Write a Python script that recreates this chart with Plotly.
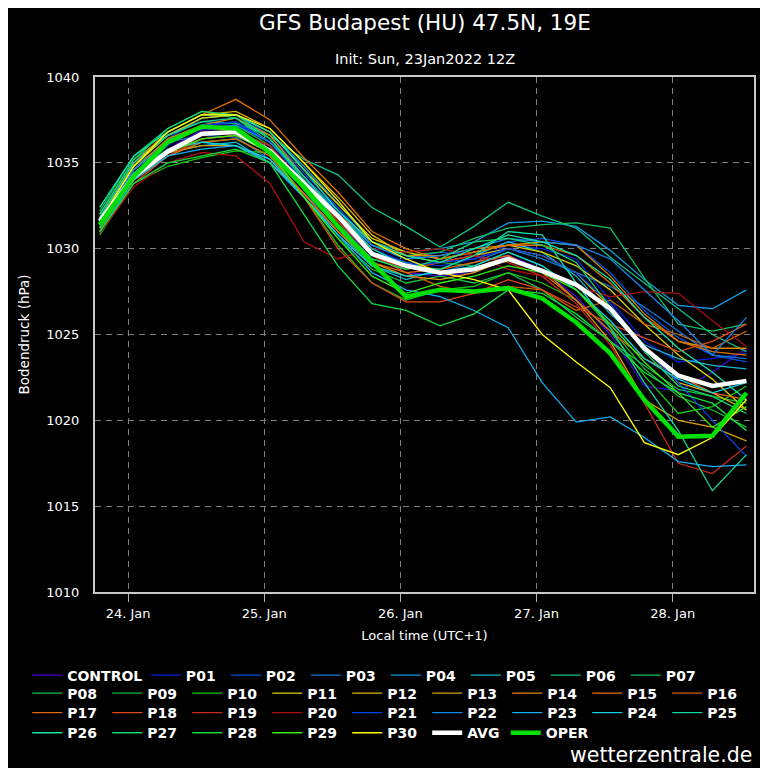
import plotly.graph_objects as go

# forecast times, local time (UTC+1), 6-hourly from init+6h
times = ["2022-01-23 19:00", "2022-01-24 01:00", "2022-01-24 07:00", "2022-01-24 13:00",
         "2022-01-24 19:00", "2022-01-25 01:00", "2022-01-25 07:00", "2022-01-25 13:00",
         "2022-01-25 19:00", "2022-01-26 01:00", "2022-01-26 07:00", "2022-01-26 13:00",
         "2022-01-26 19:00", "2022-01-27 01:00", "2022-01-27 07:00", "2022-01-27 13:00",
         "2022-01-27 19:00", "2022-01-28 01:00", "2022-01-28 07:00", "2022-01-28 13:00"]

tick_vals = ["2022-01-24", "2022-01-25", "2022-01-26", "2022-01-27", "2022-01-28"]
tick_text = ["24. Jan", "25. Jan", "26. Jan", "27. Jan", "28. Jan"]

# surface pressure (hPa) per ensemble member
control = [1031.0, 1034.0, 1035.8, 1036.9, 1037.0, 1035.8, 1033.6, 1031.4, 1029.6, 1028.6, 1028.4, 1028.6, 1029.6, 1028.8, 1027.2, 1025.0, 1022.0, 1021.7, 1022.8, 1024.2]
p01 = [1031.2, 1034.4, 1036.0, 1037.2, 1037.3, 1036.2, 1034.0, 1032.2, 1030.0, 1029.2, 1029.0, 1029.4, 1030.2, 1030.0, 1029.4, 1027.0, 1024.6, 1023.4, 1023.6, 1023.9]
p02 = [1031.4, 1034.6, 1036.4, 1037.6, 1037.8, 1036.6, 1034.4, 1032.4, 1030.2, 1029.4, 1029.8, 1029.6, 1030.4, 1030.6, 1030.2, 1028.6, 1026.4, 1024.8, 1023.8, 1023.4]
p03 = [1031.6, 1034.8, 1036.2, 1036.6, 1036.5, 1035.2, 1033.2, 1031.4, 1029.8, 1029.2, 1028.6, 1029.2, 1030.0, 1029.4, 1028.6, 1027.8, 1026.6, 1025.2, 1023.8, 1023.6]
p04 = [1031.8, 1035.0, 1036.6, 1037.6, 1037.8, 1036.8, 1034.8, 1032.6, 1030.4, 1029.8, 1030.0, 1030.4, 1031.5, 1031.6, 1031.3, 1029.9, 1028.2, 1026.7, 1026.5, 1027.6]
p05 = [1031.3, 1034.3, 1035.6, 1036.0, 1036.2, 1035.0, 1033.0, 1031.0, 1029.0, 1028.2, 1028.8, 1029.6, 1030.4, 1029.8, 1028.4, 1026.2, 1024.4, 1023.6, 1023.2, 1023.0]
p06 = [1032.0, 1035.2, 1036.6, 1037.4, 1037.3, 1036.6, 1035.2, 1034.3, 1032.4, 1031.3, 1030.1, 1031.3, 1032.7, 1031.9, 1031.2, 1029.5, 1028.0, 1026.5, 1025.0, 1024.0]
p07 = [1032.2, 1035.4, 1037.0, 1038.0, 1037.6, 1036.2, 1034.0, 1032.0, 1030.2, 1029.6, 1029.8, 1030.6, 1031.2, 1031.4, 1031.5, 1031.2, 1028.3, 1025.6, 1025.2, 1025.6]
p08 = [1031.0, 1034.0, 1035.4, 1036.2, 1036.4, 1035.4, 1033.0, 1030.6, 1028.8, 1028.0, 1028.4, 1028.0, 1028.6, 1027.6, 1026.0, 1024.6, 1023.2, 1021.8, 1021.4, 1021.0]
p09 = [1031.4, 1034.6, 1036.2, 1037.0, 1037.2, 1036.0, 1033.4, 1031.2, 1029.4, 1028.8, 1029.2, 1029.0, 1029.8, 1029.0, 1027.6, 1025.4, 1023.0, 1021.4, 1020.6, 1019.6]
p10 = [1030.8, 1033.8, 1034.8, 1035.3, 1035.7, 1035.6, 1033.0, 1030.2, 1028.0, 1027.0, 1027.6, 1027.8, 1028.6, 1028.0, 1027.0, 1025.2, 1022.6, 1020.4, 1020.8, 1022.0]
p11 = [1031.6, 1034.8, 1036.6, 1037.6, 1037.8, 1036.8, 1034.6, 1032.6, 1030.6, 1029.8, 1029.4, 1029.8, 1030.2, 1029.8, 1029.0, 1027.6, 1025.6, 1023.8, 1022.4, 1020.6]
p12 = [1031.8, 1035.0, 1036.8, 1037.8, 1038.0, 1037.0, 1035.0, 1033.0, 1030.8, 1029.6, 1029.2, 1029.6, 1030.0, 1029.6, 1028.6, 1026.6, 1024.2, 1022.2, 1021.6, 1020.6]
p13 = [1031.2, 1034.2, 1035.6, 1036.0, 1036.0, 1035.0, 1033.2, 1031.0, 1029.2, 1028.4, 1028.2, 1028.6, 1029.4, 1028.8, 1027.0, 1024.6, 1021.2, 1020.0, 1019.6, 1018.8]
p14 = [1031.6, 1034.6, 1036.4, 1037.2, 1037.6, 1036.6, 1034.2, 1032.0, 1030.4, 1029.6, 1029.6, 1030.0, 1030.2, 1030.4, 1030.2, 1028.4, 1026.2, 1024.6, 1024.2, 1024.2]
p15 = [1031.8, 1035.0, 1036.8, 1037.8, 1038.7, 1037.5, 1035.3, 1033.3, 1031.0, 1030.0, 1029.4, 1029.8, 1030.2, 1030.2, 1029.6, 1028.0, 1026.0, 1024.6, 1024.0, 1023.8]
p16 = [1031.4, 1034.2, 1035.6, 1036.4, 1036.6, 1035.6, 1033.6, 1031.6, 1029.6, 1028.6, 1027.8, 1027.4, 1027.8, 1027.6, 1026.4, 1027.0, 1025.6, 1025.0, 1024.2, 1025.2]
p17 = [1031.2, 1034.0, 1035.4, 1036.2, 1036.4, 1035.4, 1033.2, 1031.0, 1029.2, 1028.6, 1028.8, 1029.2, 1029.6, 1028.6, 1027.0, 1025.2, 1023.6, 1022.6, 1021.6, 1021.2]
p18 = [1031.0, 1033.8, 1035.4, 1036.4, 1036.6, 1035.6, 1033.0, 1030.0, 1028.0, 1026.9, 1026.9, 1027.4, 1028.2, 1027.6, 1026.6, 1025.6, 1024.8, 1024.0, 1024.6, 1025.6]
p19 = [1031.2, 1034.0, 1035.8, 1036.6, 1036.8, 1036.0, 1033.8, 1031.6, 1029.6, 1028.8, 1029.2, 1029.6, 1029.2, 1028.4, 1026.8, 1024.4, 1021.0, 1017.5, 1016.9, 1018.5]
p20 = [1030.9, 1033.6, 1035.0, 1035.6, 1035.4, 1033.8, 1030.4, 1029.4, 1030.0, 1029.8, 1030.0, 1029.6, 1028.8, 1028.4, 1027.8, 1027.2, 1027.5, 1027.4, 1025.8, 1024.3]
p21 = [1031.2, 1034.4, 1036.2, 1037.2, 1037.4, 1036.2, 1034.0, 1031.8, 1029.8, 1029.0, 1029.2, 1029.4, 1030.0, 1029.6, 1028.6, 1026.8, 1024.2, 1022.2, 1020.0, 1017.9]
p22 = [1031.6, 1034.6, 1036.2, 1037.0, 1037.2, 1036.2, 1034.2, 1032.2, 1030.2, 1029.4, 1029.6, 1030.0, 1030.6, 1030.4, 1030.2, 1029.4, 1027.6, 1025.8, 1023.8, 1026.0]
p23 = [1031.0, 1034.0, 1035.4, 1035.8, 1036.0, 1035.0, 1033.0, 1030.8, 1028.6, 1027.6, 1027.2, 1026.4, 1025.4, 1022.2, 1019.9, 1020.2, 1019.0, 1017.6, 1017.3, 1017.4]
p24 = [1031.4, 1034.4, 1035.8, 1036.2, 1036.0, 1035.2, 1033.0, 1030.8, 1029.0, 1028.4, 1028.6, 1029.0, 1029.8, 1029.0, 1027.6, 1025.8, 1023.6, 1022.4, 1021.6, 1022.2]
p25 = [1031.8, 1035.0, 1036.6, 1037.4, 1037.6, 1036.4, 1034.2, 1032.0, 1030.0, 1029.0, 1028.8, 1029.6, 1031.0, 1030.8, 1028.0, 1025.4, 1022.2, 1019.4, 1015.9, 1018.0]
p26 = [1032.4, 1035.4, 1036.8, 1037.8, 1037.8, 1036.8, 1034.6, 1032.2, 1030.4, 1029.6, 1029.2, 1030.0, 1030.8, 1030.4, 1029.6, 1028.2, 1026.0, 1024.2, 1022.8, 1021.2]
p27 = [1032.0, 1035.2, 1037.0, 1038.0, 1037.8, 1036.4, 1034.0, 1031.4, 1029.4, 1028.8, 1029.4, 1030.4, 1030.6, 1030.2, 1029.2, 1026.6, 1024.0, 1022.0, 1021.4, 1020.4]
p28 = [1031.0, 1033.8, 1035.0, 1035.4, 1035.8, 1035.0, 1032.0, 1029.0, 1026.8, 1026.4, 1025.5, 1026.2, 1027.6, 1027.4, 1026.2, 1024.6, 1022.8, 1021.6, 1021.0, 1019.4]
p29 = [1031.2, 1034.2, 1035.6, 1036.4, 1036.6, 1035.6, 1033.0, 1030.6, 1028.4, 1027.4, 1028.0, 1028.4, 1029.0, 1028.6, 1027.6, 1025.6, 1023.4, 1021.6, 1019.6, 1020.8]
p30 = [1031.6, 1034.8, 1036.8, 1037.8, 1037.8, 1037.0, 1035.0, 1032.8, 1030.4, 1029.4, 1028.6, 1028.2, 1027.6, 1025.0, 1023.4, 1021.9, 1018.7, 1018.0, 1019.0, 1021.2]
avg = [1031.6, 1034.2, 1035.65, 1036.7, 1036.8, 1035.7, 1033.8, 1031.9, 1029.7, 1029.0, 1028.6, 1028.8, 1029.4, 1028.7, 1027.9, 1026.5, 1024.2, 1022.6, 1022.0, 1022.3]
oper = [1031.4, 1034.2, 1036.2, 1037.1, 1037.0, 1035.6, 1033.6, 1031.3, 1029.2, 1027.2, 1027.6, 1027.5, 1027.7, 1027.1, 1025.7, 1023.9, 1021.2, 1019.05, 1019.1, 1021.6]

names = ["CONTROL"] + ["P%02d" % i for i in range(1, 31)]
series = [control, p01, p02, p03, p04, p05, p06, p07, p08, p09, p10, p11, p12, p13, p14, p15,
          p16, p17, p18, p19, p20, p21, p22, p23, p24, p25, p26, p27, p28, p29, p30]
colors = ["#4400dd", "#0022dd", "#0055dd", "#1177d4", "#1199dd", "#11b8d0", "#11c088", "#11c060",
          "#18c048", "#11bb30", "#11cc11", "#d8d000", "#e0b400", "#d8a000", "#e08800", "#e07000",
          "#cc6000", "#e06810", "#e04818", "#cc2a18", "#aa1010", "#0044ee", "#1188f0", "#11b0ee",
          "#11d0e0", "#11d8a0", "#11e8a8", "#11d870", "#11dd40", "#33ee11", "#ffff00"]

# one legend per row, laid out like the original (OPER gets its own so it is not clipped)
rows = ["legend"] + ["legend2"] * 7 + ["legend3"] * 9 + ["legend4"] * 9 + ["legend5"] * 5

fig = go.Figure()
for name, vals, col, lg in zip(names, series, colors, rows):
    fig.add_trace(go.Scatter(x=times, y=vals, mode="lines", name=name,
                             line=dict(color=col, width=1.3), legend=lg))
fig.add_trace(go.Scatter(x=times, y=avg, mode="lines", name="AVG",
                         line=dict(color="white", width=4.5), legend="legend5"))
fig.add_trace(go.Scatter(x=times, y=oper, mode="lines", name="OPER",
                         line=dict(color="#00e000", width=4.5), legend="legend6"))

font_fam = "DejaVu Sans, sans-serif"
leg_font = dict(family=font_fam, size=14, color="white", weight="bold")
leg_common = dict(orientation="h", xanchor="left", yanchor="top",
                  bgcolor="rgba(0,0,0,0)", font=leg_font, itemwidth=30,
                  entrywidth=35, traceorder="normal")

# the page body adds an 8px offset, so the figure is 760x760
fig.update_layout(
    width=760, height=760,
    paper_bgcolor="black", plot_bgcolor="black",
    margin=dict(l=87, r=12, t=69, b=176),
    font=dict(family=font_fam, color="white", size=13),
    showlegend=True,
    legend=dict(leg_common, x=-0.1029, y=-0.131, entrywidth=90),
    legend2=dict(leg_common, x=0.0772, y=-0.131),
    legend3=dict(leg_common, x=-0.1029, y=-0.166),
    legend4=dict(leg_common, x=-0.1029, y=-0.204),
    legend5=dict(leg_common, x=-0.1029, y=-0.243),
    legend6=dict(leg_common, x=0.6233, y=-0.243, entrywidth=55),
    xaxis=dict(
        range=["2022-01-23 18:10", "2022-01-28 14:20"],
        tickvals=tick_vals, ticktext=tick_text,
        ticks="outside", ticklen=8, tickcolor="#aab4c8",
        showgrid=True, gridcolor="#808080", griddash="6px,5px", gridwidth=1,
        showline=True, mirror=True, linecolor="#c8c8c8", linewidth=2,
        zeroline=False, tickfont=dict(size=13),
        title=dict(text="Local time (UTC+1)", font=dict(size=13), standoff=11),
    ),
    yaxis=dict(
        range=[1010, 1040], dtick=5,
        ticks="outside", ticklen=11, tickcolor="rgba(0,0,0,0)",
        showgrid=True, gridcolor="#808080", griddash="6px,5px", gridwidth=1,
        showline=True, mirror=True, linecolor="#c8c8c8", linewidth=2,
        zeroline=False, tickfont=dict(size=13),
        title=dict(text="Bodendruck (hPa)", font=dict(size=13.5), standoff=14),
    ),
    annotations=[
        dict(text="GFS Budapest (HU) 47.5N, 19E", xref="paper", yref="paper",
             x=0.5, xanchor="center", y=1 + 69 / 515, yanchor="top", showarrow=False,
             font=dict(size=21.5, color="white")),
        dict(text="Init: Sun, 23Jan2022 12Z", xref="paper", yref="paper",
             x=0.5, xanchor="center", y=1 + 18 / 515, yanchor="middle", showarrow=False,
             font=dict(size=14.5, color="white")),
        dict(text="wetterzentrale.de", xref="paper", yref="paper",
             x=1.0, xanchor="right", y=-163 / 515, yanchor="middle", showarrow=False,
             font=dict(size=20.5, color="white")),
    ],
)

fig.write_html("out.html")
